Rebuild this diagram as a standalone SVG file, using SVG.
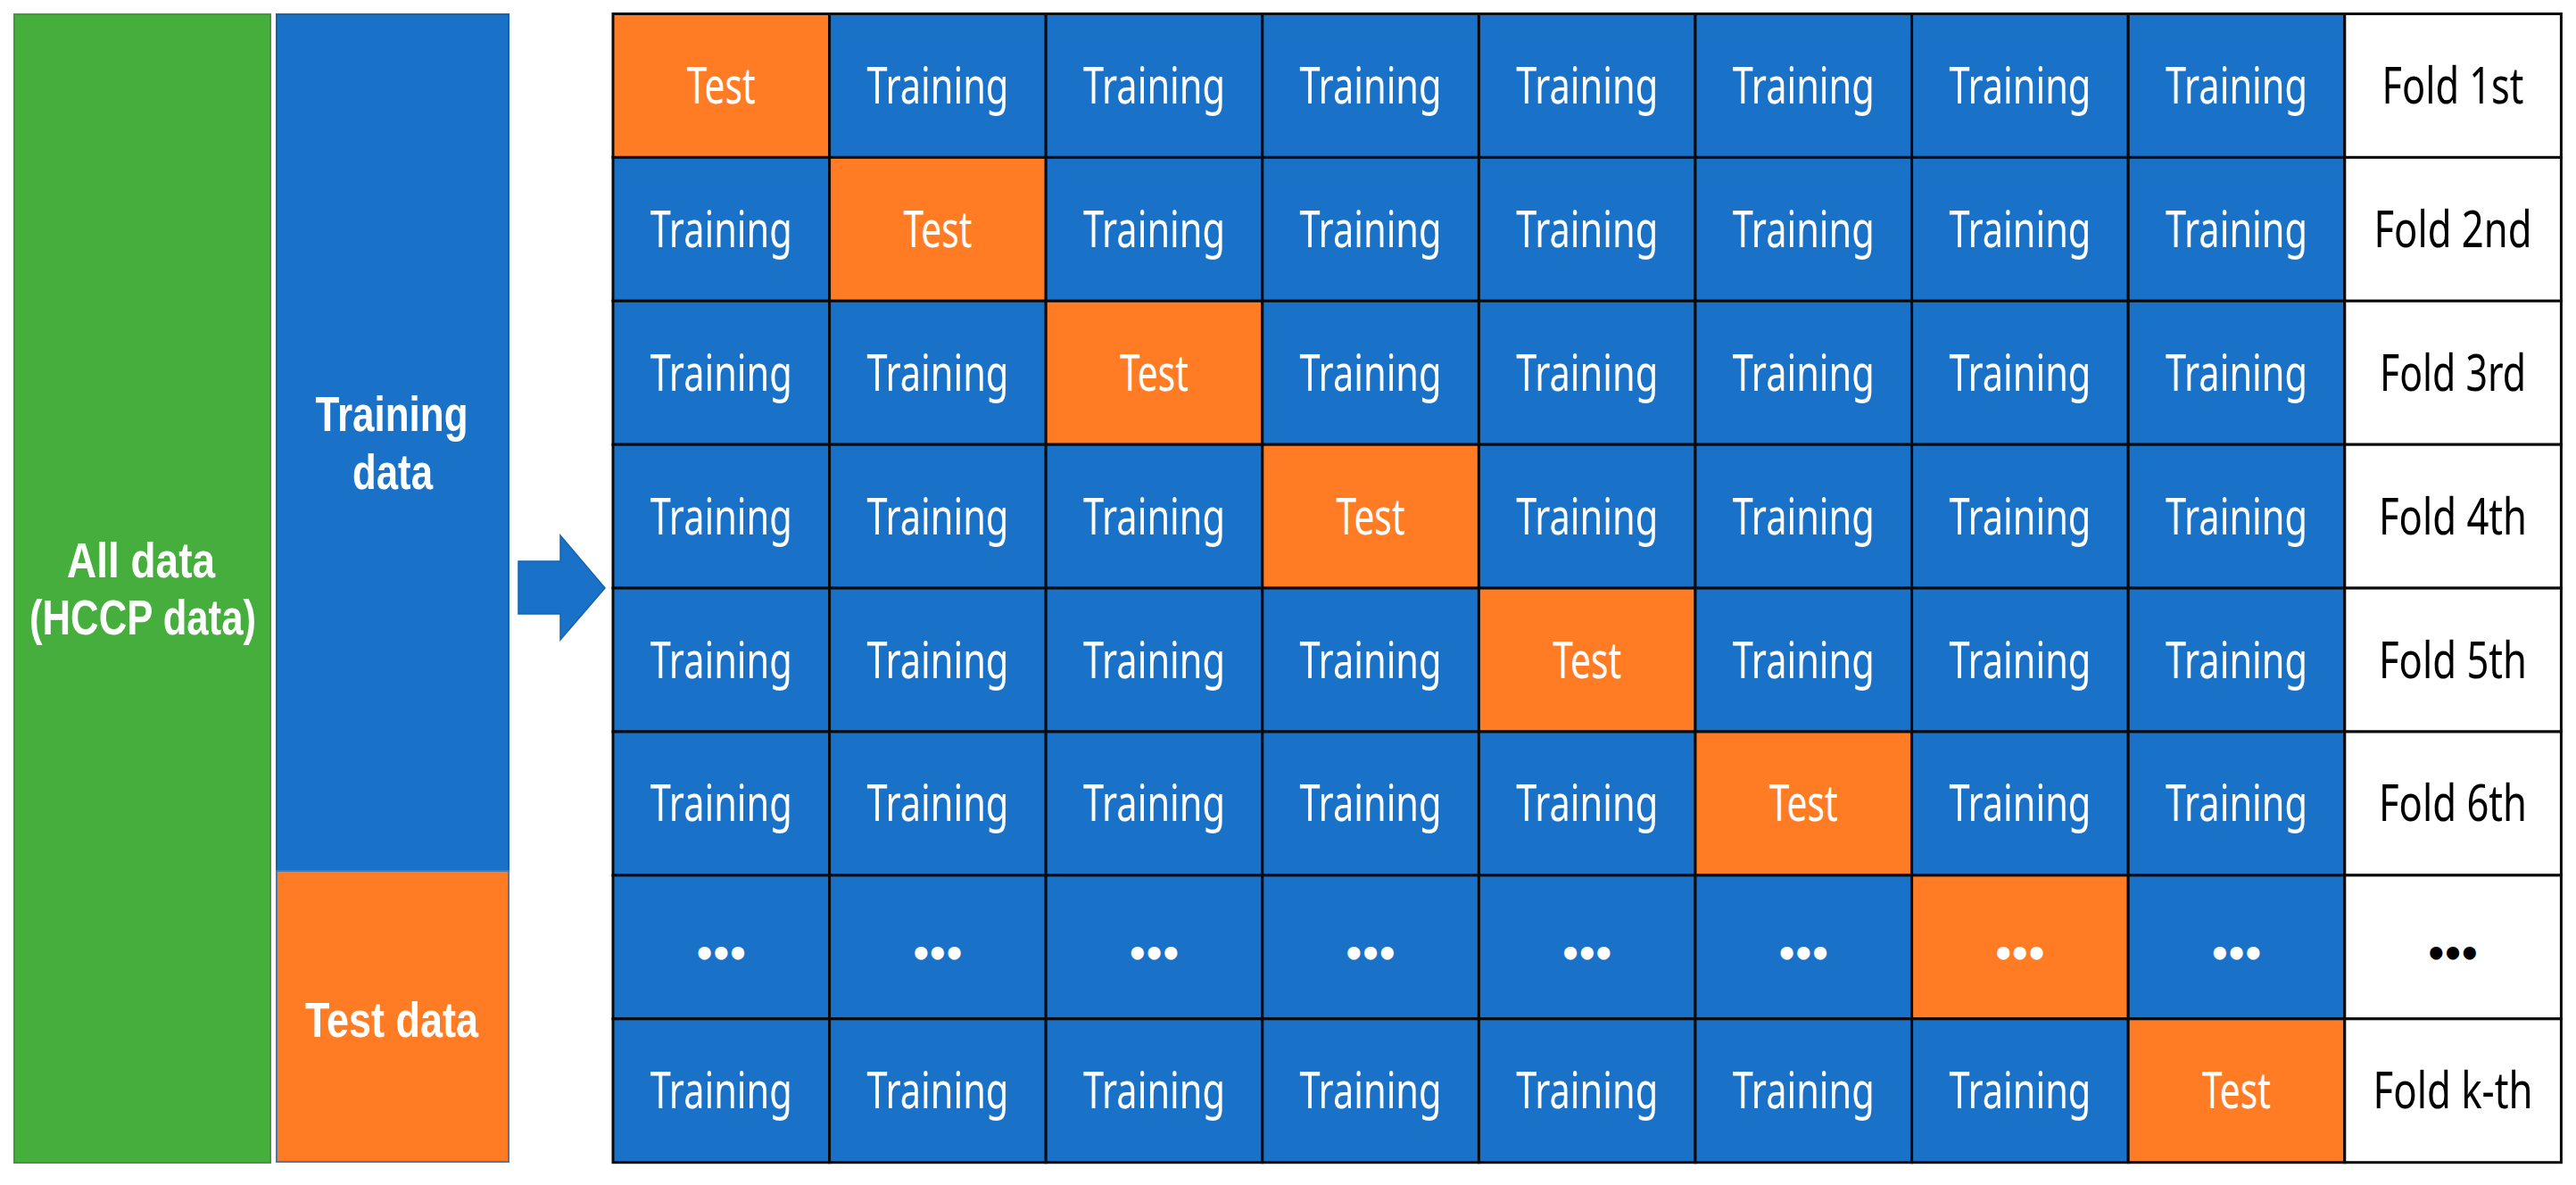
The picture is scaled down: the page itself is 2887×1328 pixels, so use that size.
<svg xmlns="http://www.w3.org/2000/svg" width="2887" height="1328" viewBox="0 0 2887 1328">
<style>
text{font-family:"Noto Sans","Open Sans",sans-serif;text-anchor:middle}
.b{fill:#1972C8;stroke:#0a0a0a;stroke-width:3}
.o{fill:#FF7C24;stroke:#0a0a0a;stroke-width:3}
.f{fill:#ffffff;stroke:#0a0a0a;stroke-width:3}
.w{fill:#ffffff;font-size:56px}
.k{fill:#000000;font-size:56px}
.bw{fill:#ffffff;font-size:56px;font-weight:bold;font-family:"Liberation Sans",Arial,sans-serif}
.dw{fill:#ffffff;font-size:40px;font-weight:bold;font-family:"DejaVu Sans",sans-serif}
.dk{fill:#000000;font-size:40px;font-weight:bold;font-family:"DejaVu Sans",sans-serif}
</style>
<rect width="2887" height="1328" fill="#ffffff"/>
<g id="all-data">
<rect x="16" y="16" width="287" height="1287" fill="#46AE3C" stroke="#3E9C35" stroke-width="2"/>
<text class="bw" x="158" y="647" textLength="166" lengthAdjust="spacingAndGlyphs">All data</text>
<text class="bw" x="160" y="711" textLength="254" lengthAdjust="spacingAndGlyphs">(HCCP data)</text>
</g>
<g id="training-data">
<rect x="310" y="16" width="260" height="960" fill="#1972C8" stroke="#1563AD" stroke-width="2"/>
<text class="bw" x="439" y="483" textLength="171" lengthAdjust="spacingAndGlyphs">Training</text>
<text class="bw" x="440" y="548" textLength="90" lengthAdjust="spacingAndGlyphs">data</text>
</g>
<g id="test-data">
<rect x="310" y="976" width="260" height="326" fill="#FF7C24" stroke="#4F78A8" stroke-width="2"/>
<text class="bw" x="439" y="1162" textLength="194" lengthAdjust="spacingAndGlyphs">Test data</text>
</g>
<g id="connectors">
<polygon id="arrow" points="581,629 628,629 628,600 678,659 628,717 628,688 581,688" fill="#1972C8" stroke="#1563AD" stroke-width="1.5"/>
</g>
<g id="row1">
<g id="r1c1"><rect class="o" x="687" y="15.5" width="242.6" height="160.9"/><text class="w" x="808.3" y="116" textLength="77" lengthAdjust="spacingAndGlyphs">Test</text></g>
<g id="r1c2"><rect class="b" x="929.6" y="15.5" width="242.6" height="160.9"/><text class="w" x="1050.9" y="116" textLength="159" lengthAdjust="spacingAndGlyphs">Training</text></g>
<g id="r1c3"><rect class="b" x="1172.2" y="15.5" width="242.6" height="160.9"/><text class="w" x="1293.5" y="116" textLength="159" lengthAdjust="spacingAndGlyphs">Training</text></g>
<g id="r1c4"><rect class="b" x="1414.8" y="15.5" width="242.6" height="160.9"/><text class="w" x="1536.1" y="116" textLength="159" lengthAdjust="spacingAndGlyphs">Training</text></g>
<g id="r1c5"><rect class="b" x="1657.4" y="15.5" width="242.6" height="160.9"/><text class="w" x="1778.7" y="116" textLength="159" lengthAdjust="spacingAndGlyphs">Training</text></g>
<g id="r1c6"><rect class="b" x="1900" y="15.5" width="242.6" height="160.9"/><text class="w" x="2021.3" y="116" textLength="159" lengthAdjust="spacingAndGlyphs">Training</text></g>
<g id="r1c7"><rect class="b" x="2142.6" y="15.5" width="242.6" height="160.9"/><text class="w" x="2263.9" y="116" textLength="159" lengthAdjust="spacingAndGlyphs">Training</text></g>
<g id="r1c8"><rect class="b" x="2385.2" y="15.5" width="242.6" height="160.9"/><text class="w" x="2506.5" y="116" textLength="159" lengthAdjust="spacingAndGlyphs">Training</text></g>
<g id="r1fold"><rect class="f" x="2627.8" y="15.5" width="242.6" height="160.9"/><text class="k" x="2749" y="116" textLength="159" lengthAdjust="spacingAndGlyphs">Fold 1st</text></g>
</g>
<g id="row2">
<g id="r2c1"><rect class="b" x="687" y="176.4" width="242.6" height="160.9"/><text class="w" x="808.3" y="277" textLength="159" lengthAdjust="spacingAndGlyphs">Training</text></g>
<g id="r2c2"><rect class="o" x="929.6" y="176.4" width="242.6" height="160.9"/><text class="w" x="1050.9" y="277" textLength="77" lengthAdjust="spacingAndGlyphs">Test</text></g>
<g id="r2c3"><rect class="b" x="1172.2" y="176.4" width="242.6" height="160.9"/><text class="w" x="1293.5" y="277" textLength="159" lengthAdjust="spacingAndGlyphs">Training</text></g>
<g id="r2c4"><rect class="b" x="1414.8" y="176.4" width="242.6" height="160.9"/><text class="w" x="1536.1" y="277" textLength="159" lengthAdjust="spacingAndGlyphs">Training</text></g>
<g id="r2c5"><rect class="b" x="1657.4" y="176.4" width="242.6" height="160.9"/><text class="w" x="1778.7" y="277" textLength="159" lengthAdjust="spacingAndGlyphs">Training</text></g>
<g id="r2c6"><rect class="b" x="1900" y="176.4" width="242.6" height="160.9"/><text class="w" x="2021.3" y="277" textLength="159" lengthAdjust="spacingAndGlyphs">Training</text></g>
<g id="r2c7"><rect class="b" x="2142.6" y="176.4" width="242.6" height="160.9"/><text class="w" x="2263.9" y="277" textLength="159" lengthAdjust="spacingAndGlyphs">Training</text></g>
<g id="r2c8"><rect class="b" x="2385.2" y="176.4" width="242.6" height="160.9"/><text class="w" x="2506.5" y="277" textLength="159" lengthAdjust="spacingAndGlyphs">Training</text></g>
<g id="r2fold"><rect class="f" x="2627.8" y="176.4" width="242.6" height="160.9"/><text class="k" x="2749" y="277" textLength="177" lengthAdjust="spacingAndGlyphs">Fold 2nd</text></g>
</g>
<g id="row3">
<g id="r3c1"><rect class="b" x="687" y="337.3" width="242.6" height="160.9"/><text class="w" x="808.3" y="438" textLength="159" lengthAdjust="spacingAndGlyphs">Training</text></g>
<g id="r3c2"><rect class="b" x="929.6" y="337.3" width="242.6" height="160.9"/><text class="w" x="1050.9" y="438" textLength="159" lengthAdjust="spacingAndGlyphs">Training</text></g>
<g id="r3c3"><rect class="o" x="1172.2" y="337.3" width="242.6" height="160.9"/><text class="w" x="1293.5" y="438" textLength="77" lengthAdjust="spacingAndGlyphs">Test</text></g>
<g id="r3c4"><rect class="b" x="1414.8" y="337.3" width="242.6" height="160.9"/><text class="w" x="1536.1" y="438" textLength="159" lengthAdjust="spacingAndGlyphs">Training</text></g>
<g id="r3c5"><rect class="b" x="1657.4" y="337.3" width="242.6" height="160.9"/><text class="w" x="1778.7" y="438" textLength="159" lengthAdjust="spacingAndGlyphs">Training</text></g>
<g id="r3c6"><rect class="b" x="1900" y="337.3" width="242.6" height="160.9"/><text class="w" x="2021.3" y="438" textLength="159" lengthAdjust="spacingAndGlyphs">Training</text></g>
<g id="r3c7"><rect class="b" x="2142.6" y="337.3" width="242.6" height="160.9"/><text class="w" x="2263.9" y="438" textLength="159" lengthAdjust="spacingAndGlyphs">Training</text></g>
<g id="r3c8"><rect class="b" x="2385.2" y="337.3" width="242.6" height="160.9"/><text class="w" x="2506.5" y="438" textLength="159" lengthAdjust="spacingAndGlyphs">Training</text></g>
<g id="r3fold"><rect class="f" x="2627.8" y="337.3" width="242.6" height="160.9"/><text class="k" x="2749" y="438" textLength="164" lengthAdjust="spacingAndGlyphs">Fold 3rd</text></g>
</g>
<g id="row4">
<g id="r4c1"><rect class="b" x="687" y="498.2" width="242.6" height="160.9"/><text class="w" x="808.3" y="599" textLength="159" lengthAdjust="spacingAndGlyphs">Training</text></g>
<g id="r4c2"><rect class="b" x="929.6" y="498.2" width="242.6" height="160.9"/><text class="w" x="1050.9" y="599" textLength="159" lengthAdjust="spacingAndGlyphs">Training</text></g>
<g id="r4c3"><rect class="b" x="1172.2" y="498.2" width="242.6" height="160.9"/><text class="w" x="1293.5" y="599" textLength="159" lengthAdjust="spacingAndGlyphs">Training</text></g>
<g id="r4c4"><rect class="o" x="1414.8" y="498.2" width="242.6" height="160.9"/><text class="w" x="1536.1" y="599" textLength="77" lengthAdjust="spacingAndGlyphs">Test</text></g>
<g id="r4c5"><rect class="b" x="1657.4" y="498.2" width="242.6" height="160.9"/><text class="w" x="1778.7" y="599" textLength="159" lengthAdjust="spacingAndGlyphs">Training</text></g>
<g id="r4c6"><rect class="b" x="1900" y="498.2" width="242.6" height="160.9"/><text class="w" x="2021.3" y="599" textLength="159" lengthAdjust="spacingAndGlyphs">Training</text></g>
<g id="r4c7"><rect class="b" x="2142.6" y="498.2" width="242.6" height="160.9"/><text class="w" x="2263.9" y="599" textLength="159" lengthAdjust="spacingAndGlyphs">Training</text></g>
<g id="r4c8"><rect class="b" x="2385.2" y="498.2" width="242.6" height="160.9"/><text class="w" x="2506.5" y="599" textLength="159" lengthAdjust="spacingAndGlyphs">Training</text></g>
<g id="r4fold"><rect class="f" x="2627.8" y="498.2" width="242.6" height="160.9"/><text class="k" x="2749" y="599" textLength="166" lengthAdjust="spacingAndGlyphs">Fold 4th</text></g>
</g>
<g id="row5">
<g id="r5c1"><rect class="b" x="687" y="659.1" width="242.6" height="160.9"/><text class="w" x="808.3" y="760" textLength="159" lengthAdjust="spacingAndGlyphs">Training</text></g>
<g id="r5c2"><rect class="b" x="929.6" y="659.1" width="242.6" height="160.9"/><text class="w" x="1050.9" y="760" textLength="159" lengthAdjust="spacingAndGlyphs">Training</text></g>
<g id="r5c3"><rect class="b" x="1172.2" y="659.1" width="242.6" height="160.9"/><text class="w" x="1293.5" y="760" textLength="159" lengthAdjust="spacingAndGlyphs">Training</text></g>
<g id="r5c4"><rect class="b" x="1414.8" y="659.1" width="242.6" height="160.9"/><text class="w" x="1536.1" y="760" textLength="159" lengthAdjust="spacingAndGlyphs">Training</text></g>
<g id="r5c5"><rect class="o" x="1657.4" y="659.1" width="242.6" height="160.9"/><text class="w" x="1778.7" y="760" textLength="77" lengthAdjust="spacingAndGlyphs">Test</text></g>
<g id="r5c6"><rect class="b" x="1900" y="659.1" width="242.6" height="160.9"/><text class="w" x="2021.3" y="760" textLength="159" lengthAdjust="spacingAndGlyphs">Training</text></g>
<g id="r5c7"><rect class="b" x="2142.6" y="659.1" width="242.6" height="160.9"/><text class="w" x="2263.9" y="760" textLength="159" lengthAdjust="spacingAndGlyphs">Training</text></g>
<g id="r5c8"><rect class="b" x="2385.2" y="659.1" width="242.6" height="160.9"/><text class="w" x="2506.5" y="760" textLength="159" lengthAdjust="spacingAndGlyphs">Training</text></g>
<g id="r5fold"><rect class="f" x="2627.8" y="659.1" width="242.6" height="160.9"/><text class="k" x="2749" y="760" textLength="166" lengthAdjust="spacingAndGlyphs">Fold 5th</text></g>
</g>
<g id="row6">
<g id="r6c1"><rect class="b" x="687" y="820" width="242.6" height="160.9"/><text class="w" x="808.3" y="920" textLength="159" lengthAdjust="spacingAndGlyphs">Training</text></g>
<g id="r6c2"><rect class="b" x="929.6" y="820" width="242.6" height="160.9"/><text class="w" x="1050.9" y="920" textLength="159" lengthAdjust="spacingAndGlyphs">Training</text></g>
<g id="r6c3"><rect class="b" x="1172.2" y="820" width="242.6" height="160.9"/><text class="w" x="1293.5" y="920" textLength="159" lengthAdjust="spacingAndGlyphs">Training</text></g>
<g id="r6c4"><rect class="b" x="1414.8" y="820" width="242.6" height="160.9"/><text class="w" x="1536.1" y="920" textLength="159" lengthAdjust="spacingAndGlyphs">Training</text></g>
<g id="r6c5"><rect class="b" x="1657.4" y="820" width="242.6" height="160.9"/><text class="w" x="1778.7" y="920" textLength="159" lengthAdjust="spacingAndGlyphs">Training</text></g>
<g id="r6c6"><rect class="o" x="1900" y="820" width="242.6" height="160.9"/><text class="w" x="2021.3" y="920" textLength="77" lengthAdjust="spacingAndGlyphs">Test</text></g>
<g id="r6c7"><rect class="b" x="2142.6" y="820" width="242.6" height="160.9"/><text class="w" x="2263.9" y="920" textLength="159" lengthAdjust="spacingAndGlyphs">Training</text></g>
<g id="r6c8"><rect class="b" x="2385.2" y="820" width="242.6" height="160.9"/><text class="w" x="2506.5" y="920" textLength="159" lengthAdjust="spacingAndGlyphs">Training</text></g>
<g id="r6fold"><rect class="f" x="2627.8" y="820" width="242.6" height="160.9"/><text class="k" x="2749" y="920" textLength="166" lengthAdjust="spacingAndGlyphs">Fold 6th</text></g>
</g>
<g id="row7">
<g id="r7c1"><rect class="b" x="687" y="980.9" width="242.6" height="160.9"/><text class="dw" x="789.6 808.3 827" y="1083">•••</text></g>
<g id="r7c2"><rect class="b" x="929.6" y="980.9" width="242.6" height="160.9"/><text class="dw" x="1032.2 1050.9 1069.6" y="1083">•••</text></g>
<g id="r7c3"><rect class="b" x="1172.2" y="980.9" width="242.6" height="160.9"/><text class="dw" x="1274.8 1293.5 1312.2" y="1083">•••</text></g>
<g id="r7c4"><rect class="b" x="1414.8" y="980.9" width="242.6" height="160.9"/><text class="dw" x="1517.4 1536.1 1554.8" y="1083">•••</text></g>
<g id="r7c5"><rect class="b" x="1657.4" y="980.9" width="242.6" height="160.9"/><text class="dw" x="1760 1778.7 1797.4" y="1083">•••</text></g>
<g id="r7c6"><rect class="b" x="1900" y="980.9" width="242.6" height="160.9"/><text class="dw" x="2002.6 2021.3 2040" y="1083">•••</text></g>
<g id="r7c7"><rect class="o" x="2142.6" y="980.9" width="242.6" height="160.9"/><text class="dw" x="2245.2 2263.9 2282.6" y="1083">•••</text></g>
<g id="r7c8"><rect class="b" x="2385.2" y="980.9" width="242.6" height="160.9"/><text class="dw" x="2487.8 2506.5 2525.2" y="1083">•••</text></g>
<g id="r7fold"><rect class="f" x="2627.8" y="980.9" width="242.6" height="160.9"/><text class="dk" x="2730.3 2749 2767.7" y="1083">•••</text></g>
</g>
<g id="row8">
<g id="r8c1"><rect class="b" x="687" y="1141.8" width="242.6" height="160.9"/><text class="w" x="808.3" y="1242" textLength="159" lengthAdjust="spacingAndGlyphs">Training</text></g>
<g id="r8c2"><rect class="b" x="929.6" y="1141.8" width="242.6" height="160.9"/><text class="w" x="1050.9" y="1242" textLength="159" lengthAdjust="spacingAndGlyphs">Training</text></g>
<g id="r8c3"><rect class="b" x="1172.2" y="1141.8" width="242.6" height="160.9"/><text class="w" x="1293.5" y="1242" textLength="159" lengthAdjust="spacingAndGlyphs">Training</text></g>
<g id="r8c4"><rect class="b" x="1414.8" y="1141.8" width="242.6" height="160.9"/><text class="w" x="1536.1" y="1242" textLength="159" lengthAdjust="spacingAndGlyphs">Training</text></g>
<g id="r8c5"><rect class="b" x="1657.4" y="1141.8" width="242.6" height="160.9"/><text class="w" x="1778.7" y="1242" textLength="159" lengthAdjust="spacingAndGlyphs">Training</text></g>
<g id="r8c6"><rect class="b" x="1900" y="1141.8" width="242.6" height="160.9"/><text class="w" x="2021.3" y="1242" textLength="159" lengthAdjust="spacingAndGlyphs">Training</text></g>
<g id="r8c7"><rect class="b" x="2142.6" y="1141.8" width="242.6" height="160.9"/><text class="w" x="2263.9" y="1242" textLength="159" lengthAdjust="spacingAndGlyphs">Training</text></g>
<g id="r8c8"><rect class="o" x="2385.2" y="1141.8" width="242.6" height="160.9"/><text class="w" x="2506.5" y="1242" textLength="77" lengthAdjust="spacingAndGlyphs">Test</text></g>
<g id="r8fold"><rect class="f" x="2627.8" y="1141.8" width="242.6" height="160.9"/><text class="k" x="2749" y="1242" textLength="179" lengthAdjust="spacingAndGlyphs">Fold k-th</text></g>
</g>
</svg>
